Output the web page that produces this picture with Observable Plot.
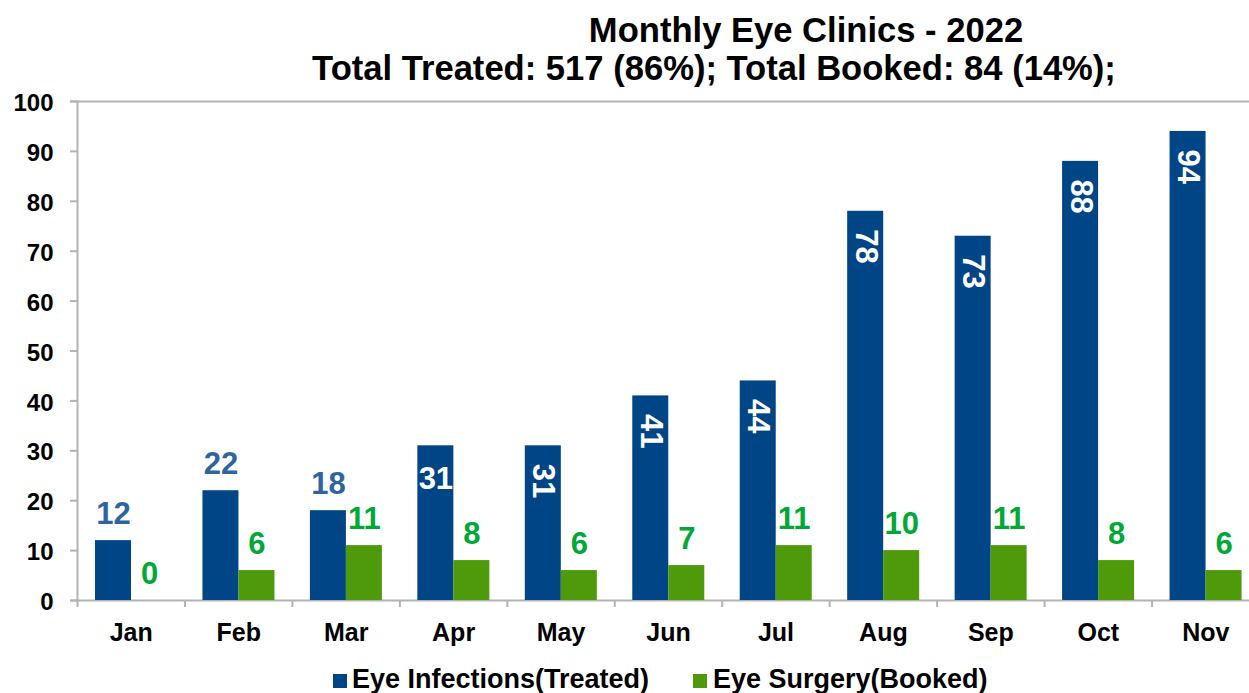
<!DOCTYPE html>
<html>
<head>
<meta charset="utf-8">
<script src="https://cdn.jsdelivr.net/npm/d3@7"></script>
<script src="https://cdn.jsdelivr.net/npm/@observablehq/plot@0.6"></script>
<style>
  body { margin: 0; background: #fff; font-family: "Liberation Sans", Arial, sans-serif; }
  #wrap { position: relative; width: 1249px; height: 693px; overflow: hidden; }
  .title { position: absolute; font-weight: bold; font-size: 34.6px; line-height: 1; color: #000; white-space: nowrap; transform: translateX(-50%); }
  .leg { position: absolute; font-weight: bold; font-size: 27px; line-height: 1; color: #000; white-space: nowrap; }
  .sw { position: absolute; width: 14px; height: 14px; }
  #chart { position: absolute; left: 0; top: 0; }
</style>
</head>
<body>
<div id="wrap">
  <div id="chart"></div>
  <div class="title" id="t1" style="left:806px; top:13px;"></div>
  <div class="title" id="t2" style="left:714px; top:51px;"></div>
  <div class="sw" style="left:333px; top:674px; background:#004586;"></div>
  <div class="leg" id="l1" style="left:352px; top:666px;"></div>
  <div class="sw" style="left:693px; top:674px; background:#4f9a0b;"></div>
  <div class="leg" id="l2" style="left:713px; top:666px;"></div>
</div>
<script>
const titleLine1 = "Monthly Eye Clinics - 2022";
const titleLine2 = "Total Treated: 517 (86%); Total Booked: 84 (14%);";
const months = ["Jan", "Feb", "Mar", "Apr", "May", "Jun", "Jul", "Aug", "Sep", "Oct", "Nov"];
const treated = [12, 22, 18, 31, 31, 41, 44, 78, 73, 88, 94];
const booked = [0, 6, 11, 8, 6, 7, 11, 10, 11, 8, 6];
const seriesNames = ["Eye Infections(Treated)", "Eye Surgery(Booked)"];
const yTicks = [0, 10, 20, 30, 40, 50, 60, 70, 80, 90, 100];

document.getElementById("t1").textContent = titleLine1;
document.getElementById("t2").textContent = titleLine2;
document.getElementById("l1").textContent = seriesNames[0];
document.getElementById("l2").textContent = seriesNames[1];

const blue = "#004586", green = "#4f9a0b";
const blueLbl = "#2e64a0", greenLbl = "#00a838";
const axisGray = "#b3b3b3";

const tTreated = months.map((m, i) => ({month: m, value: treated[i], idx: i}));
const tBooked = months.map((m, i) => ({month: m, value: booked[i], idx: i}));

const outsideBlue = tTreated.filter(d => d.idx < 3);
const insideFlatBlue = tTreated.filter(d => d.idx === 3);
const rotatedBlue = tTreated.filter(d => d.idx > 3);

const bw = 1182 / 11;
const labelFont = {fontSize: 31, fontWeight: "bold"};

const chart = Plot.plot({
  width: 1249,
  height: 693,
  marginLeft: 77,
  marginRight: -10,
  marginTop: 101,
  marginBottom: 93,
  style: {fontFamily: "'Liberation Sans', Arial, sans-serif", background: "transparent", overflow: "hidden"},
  x: {type: "band", domain: months, range: [77, 1259], padding: 0, paddingInner: 0, paddingOuter: 0, align: 0.5, round: false, axis: null, label: null},
  y: {domain: [0, 100], axis: null, label: null},
  marks: [
    Plot.ruleY([100], {stroke: axisGray, strokeWidth: 2, insetLeft: -7}),
    Plot.ruleY([0], {stroke: axisGray, strokeWidth: 2, insetLeft: -7}),
    Plot.frame({anchor: "left", stroke: axisGray, strokeWidth: 2}),
    Plot.axisY(yTicks, {tickSize: 7, text: null, label: null, stroke: axisGray, strokeWidth: 2}),
    Plot.axisY(yTicks, {tickSize: 0, tickPadding: 24, label: null, fontSize: 24, fontWeight: "bold", fill: "#000", dy: 2}),
    Plot.axisX({tickSize: 7, text: null, label: null, stroke: axisGray, strokeWidth: 2, dx: -bw / 2}),
    Plot.axisX({tickSize: 0, tickPadding: 23, label: null, fontSize: 25, fontWeight: "bold", fill: "#000"}),
    Plot.barY(tTreated, {x: "month", y: "value", fill: blue, insetLeft: 18, insetRight: bw - 54}),
    Plot.barY(tBooked, {x: "month", y: "value", fill: green, insetLeft: 54, insetRight: bw - 90}),
    Plot.text(outsideBlue, {x: "month", y: "value", text: d => String(d.value), fill: blueLbl, lineAnchor: "bottom", dx: 36 - bw / 2, dy: -17, ...labelFont}),
    Plot.text(insideFlatBlue, {x: "month", y: "value", text: d => String(d.value), fill: "#fff", lineAnchor: "top", dx: 36 - bw / 2, dy: 21, ...labelFont}),
    Plot.text(rotatedBlue, {x: "month", y: "value", text: d => String(d.value), fill: "#fff", rotate: 90, textAnchor: "start", lineAnchor: "middle", dx: 36 - bw / 2, dy: 18, ...labelFont}),
    Plot.text(tBooked, {x: "month", y: "value", text: d => String(d.value), fill: greenLbl, lineAnchor: "bottom", dx: 72 - bw / 2, dy: -17, ...labelFont})
  ]
});
document.getElementById("chart").appendChild(chart);
</script>
</body>
</html>
